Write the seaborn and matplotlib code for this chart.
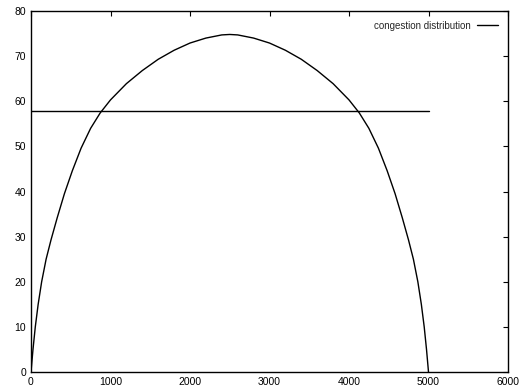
import matplotlib
matplotlib.use("Agg")
import matplotlib.pyplot as plt
import seaborn as sns
import pandas as pd

# data
curve_x = [0, 25, 54, 90, 134, 190, 252, 330, 420, 520, 630, 750, 870,
           1000, 1200, 1400, 1600, 1800, 2000, 2200, 2400, 2500,
           2600, 2800, 3000, 3200, 3400, 3600, 3800, 4000, 4130, 4250,
           4370, 4480, 4580, 4670, 4748, 4810, 4866, 4910, 4946, 4975, 5000]
curve_y = [0, 5, 10, 15, 20, 25, 29.3, 34.2, 39.5, 44.6, 49.6, 54.0, 57.4,
           60.3, 63.9, 66.8, 69.3, 71.3, 72.9, 74.0, 74.7, 74.8,
           74.7, 74.0, 72.9, 71.3, 69.3, 66.8, 63.9, 60.3, 57.4, 54.0,
           49.6, 44.6, 39.5, 34.2, 29.3, 25, 20, 15, 10, 5, 0]
avg_x = [0, 5000]
avg_y = [57.8, 57.8]
x_ticks = [0, 1000, 2000, 3000, 4000, 5000, 6000]
y_ticks = [0, 10, 20, 30, 40, 50, 60, 70, 80]
legend_label = "congestion distribution"

sns.set_style("white")
plt.rcParams['font.family'] = ['Liberation Sans', 'DejaVu Sans']

fig = plt.figure(figsize=(5.29, 3.89), dpi=100)
ax = fig.add_axes([31/529, 17/389, 477/529, 361/389])

df_curve = pd.DataFrame({"x": curve_x, "y": curve_y})
df_avg = pd.DataFrame({"x": avg_x, "y": avg_y})
sns.lineplot(data=df_curve, x="x", y="y", ax=ax, color="black", lw=1.0,
             label=legend_label, sort=False, estimator=None)
sns.lineplot(data=df_avg, x="x", y="y", ax=ax, color="black", lw=1.0,
             sort=False, estimator=None)

ax.set_xlim(0, 6000)
ax.set_ylim(0, 80)
ax.set_xticks(x_ticks)
ax.set_yticks(y_ticks)
ax.set_xlabel("")
ax.set_ylabel("")
ax.tick_params(axis="both", which="both", direction="in", length=3.5, width=0.8,
               top=True, right=True, labelsize=7.5, pad=3.5, colors="black")
for s in ax.spines.values():
    s.set_color("black")
    s.set_linewidth(1.0)

leg = ax.legend(loc="upper right", frameon=False, markerfirst=False,
                fontsize=7, handlelength=2.2, borderaxespad=0.6, handletextpad=0.6)

fig.savefig("out.png", dpi=100)
